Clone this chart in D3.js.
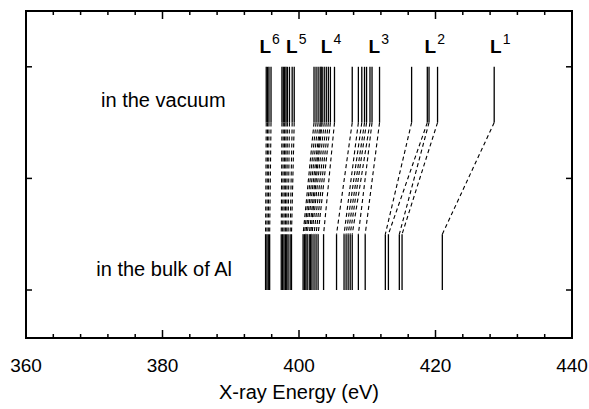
<!DOCTYPE html>
<html>
<head>
<meta charset="utf-8">
<script src="https://cdn.jsdelivr.net/npm/d3@7"></script>
<style>
  body { margin: 0; background: #fff; }
  svg { display: block; font-family: "Liberation Sans", Arial, Helvetica, sans-serif; }
</style>
</head>
<body>
<div id="chart"></div>
<script>
// line groups (L6 ... L1), energies in eV
const groupNames = ["6", "5", "4", "3", "2", "1"];
const labelEnergy = [394.2, 398.1, 403.2, 410.2, 418.4, 428.0];

const vacuumL6 = [395.2, 395.4, 395.6, 395.9];
const bulkL6   = [395.1, 395.3, 395.5, 395.7];
const vacuumL5 = [397.5, 397.7, 397.9, 398.1, 398.3, 398.6, 399.0, 399.3];
const bulkL5   = [397.4, 397.6, 397.8, 398.0, 398.2, 398.4, 398.7, 398.9];
const vacuumL4 = [402.2, 402.5, 402.8, 403.1, 403.25, 403.4, 403.7, 404.0, 404.3, 404.6, 405.2];
const bulkL4   = [400.6, 400.8, 401.0, 401.2, 401.5, 401.7, 401.9, 402.2, 402.5, 402.8, 403.6];
const vacuumL3 = [407.8, 408.7, 409.2, 409.6, 409.9, 410.4, 410.7, 411.8];
const bulkL3   = [405.5, 406.6, 406.9, 407.2, 407.5, 407.8, 408.7, 409.7];
const vacuumL2 = [416.5, 418.8, 419.05, 420.3];
const bulkL2   = [412.65, 413.1, 414.7, 415.1];
const vacuumL1 = [428.6];
const bulkL1   = [421.0];

const vacuumLines = [vacuumL6, vacuumL5, vacuumL4, vacuumL3, vacuumL2, vacuumL1];
const bulkLines   = [bulkL6, bulkL5, bulkL4, bulkL3, bulkL2, bulkL1];

// vertical levels (arbitrary units): vacuum 3 -> 2.5, bulk 1.5 -> 1
const vacTop = 3, vacBottom = 2.5, bulkTop = 1.5, bulkBottom = 1;

const xMajor = [360, 380, 400, 420, 440];
const xMinor = d3.range(364, 440, 4).filter(d => d % 20 !== 0);
const yTicks = [1, 2, 3];

const W = 589, H = 409;
const margin = { top: 11, right: 17, bottom: 71, left: 26 };

const svg = d3.select("#chart").append("svg")
  .attr("width", W)
  .attr("height", H);

const x = d3.scaleLinear().domain([360, 440]).range([margin.left, W - margin.right]);
const y = d3.scaleLinear().domain([0.57, 3.5]).range([H - margin.bottom, margin.top]);

const plotTop = y.range()[1], plotBottom = y.range()[0];

// spectral lines
const g = svg.append("g");
vacuumLines.forEach(function (vac, gi) {
  const bulk = bulkLines[gi];
  vac.forEach(function (e, i) {
    g.append("line")
      .attr("x1", x(e)).attr("x2", x(e))
      .attr("y1", y(vacTop)).attr("y2", y(vacBottom))
      .attr("stroke", "#000").attr("stroke-width", 1.3);
    g.append("line")
      .attr("x1", x(e)).attr("x2", x(bulk[i]))
      .attr("y1", y(vacBottom)).attr("y2", y(bulkTop))
      .attr("stroke", "#000").attr("stroke-width", 1.1)
      .attr("stroke-dasharray", "4,3");
  });
  bulk.forEach(function (e) {
    g.append("line")
      .attr("x1", x(e)).attr("x2", x(e))
      .attr("y1", y(bulkTop)).attr("y2", y(bulkBottom))
      .attr("stroke", "#000").attr("stroke-width", 1.3);
  });
});

// group labels L^n
groupNames.forEach(function (n, i) {
  const t = svg.append("text")
    .attr("x", x(labelEnergy[i]))
    .attr("y", 53)
    .attr("font-size", 19)
    .attr("font-weight", "bold")
    .text("L");
  t.append("tspan")
    .attr("dy", -9)
    .attr("dx", 1)
    .attr("font-size", 14)
    .attr("font-weight", "normal")
    .text(n);
});

// side texts
svg.append("text")
  .attr("x", x(371.0)).attr("y", y(2.64))
  .attr("font-size", 20)
  .text("in the vacuum");
svg.append("text")
  .attr("x", x(370.3)).attr("y", y(1.13))
  .attr("font-size", 20)
  .text("in the bulk of Al");

// frame
svg.append("rect")
  .attr("x", x(360)).attr("y", plotTop)
  .attr("width", x(440) - x(360))
  .attr("height", plotBottom - plotTop)
  .attr("fill", "none")
  .attr("stroke", "#000")
  .attr("stroke-width", 2);

// x ticks, inward on bottom and top
const ticks = svg.append("g").attr("stroke", "#000").attr("stroke-width", 1.5);
xMajor.concat(xMinor).forEach(function (v) {
  const len = xMajor.includes(v) ? 8 : 4;
  ticks.append("line").attr("x1", x(v)).attr("x2", x(v))
    .attr("y1", plotBottom).attr("y2", plotBottom - len);
  ticks.append("line").attr("x1", x(v)).attr("x2", x(v))
    .attr("y1", plotTop).attr("y2", plotTop + len);
});
yTicks.forEach(function (v) {
  ticks.append("line").attr("x1", x(360)).attr("x2", x(360) + 6)
    .attr("y1", y(v)).attr("y2", y(v));
  ticks.append("line").attr("x1", x(440)).attr("x2", x(440) - 6)
    .attr("y1", y(v)).attr("y2", y(v));
});

// x tick labels
svg.append("g").selectAll("text")
  .data(xMajor)
  .join("text")
  .attr("x", d => x(d))
  .attr("y", plotBottom + 34)
  .attr("text-anchor", "middle")
  .attr("font-size", 19)
  .text(d => d);

svg.append("text")
  .attr("x", (x(360) + x(440)) / 2)
  .attr("y", H - 10)
  .attr("text-anchor", "middle")
  .attr("font-size", 20)
  .text("X-ray Energy (eV)");
</script>
</body>
</html>
